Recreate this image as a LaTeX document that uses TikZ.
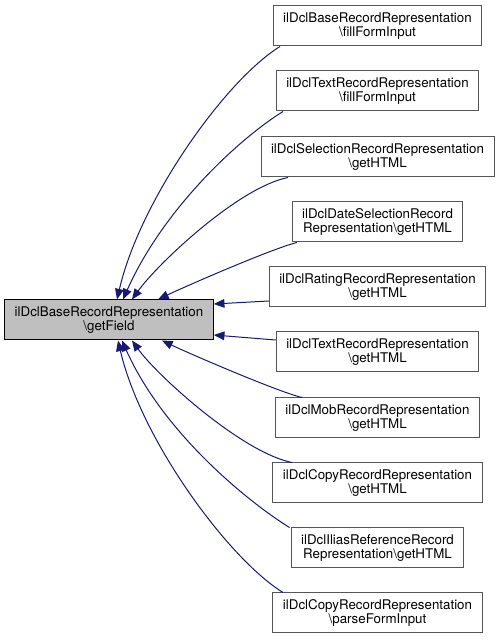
\documentclass[tikz,border=0pt]{standalone}
\usepackage{fontspec}
\setmainfont{TeX Gyre Heros}
\usepackage{xcolor}
\usepackage{tikz}
\usetikzlibrary{arrows.meta,calc}
\definecolor{callline}{HTML}{191970}
\definecolor{frame}{HTML}{555555}
\definecolor{rootfill}{HTML}{BFBFBF}
\tikzset{
  fn/.style={draw=frame,fill=white,line width=.75pt,align=center,inner xsep=7.5pt,inner ysep=2pt,minimum height=30pt,font=\fontsize{10}{10.5}\selectfont},
  root/.style={fn,draw=black,fill=rootfill},
  call/.style={{Triangle[length=8pt,width=6.5pt]}-,draw=callline,fill=none,line width=.75pt}
}
\newcommand{\bs}{\textbackslash}

\begin{document}
\begin{tikzpicture}[x=.75pt,y=.75pt]
  \useasboundingbox (0,0) rectangle (499,640);
  \node[root] (getfield) at (109,320) {ilDclBaseRecordRepresentation\\\bs getField};
  \node[fn] (basefill) at (377.5,614) {ilDclBaseRecordRepresentation\\\bs fillFormInput};
  \node[fn] (textfill) at (377.5,549) {ilDclTextRecordRepresentation\\\bs fillFormInput};
  \node[fn] (selhtml) at (377.5,483) {ilDclSelectionRecordRepresentation\\\bs getHTML};
  \node[fn] (datehtml) at (377.5,418) {ilDclDateSelectionRecord\\Representation\bs getHTML};
  \node[fn] (ratinghtml) at (377.5,353) {ilDclRatingRecordRepresentation\\\bs getHTML};
  \node[fn] (texthtml) at (377.5,288) {ilDclTextRecordRepresentation\\\bs getHTML};
  \node[fn] (mobhtml) at (377.5,222) {ilDclMobRecordRepresentation\\\bs getHTML};
  \node[fn] (copyhtml) at (377.5,157) {ilDclCopyRecordRepresentation\\\bs getHTML};
  \node[fn] (iliashtml) at (377.5,92) {ilDclIliasReferenceRecord\\Representation\bs getHTML};
  \node[fn] (copyparse) at (377.5,27) {ilDclCopyRecordRepresentation\\\bs parseFormInput};

  \draw[call] ($(getfield.north)+(8,0)$) .. controls +(23,99) and +(-55,-34) .. ($(basefill.south)+(-97.5,0)$);
  \draw[call] ($(getfield.north)+(14,0)$) .. controls +(40,90) and +(-45,-28) .. ($(textfill.south)+(-94.5,0)$);
  \draw[call] ($(getfield.north)+(23,0)$) .. controls +(25,35) and +(-50,-10) .. ($(selhtml.south)+(-89.5,0)$);
  \draw[call] ($(getfield.north)+(49,0)$) .. controls +(25,12) and +(-25,-6) .. ($(datehtml.south)+(-80.5,0)$);
  \draw[call] ($(getfield.east)+(0,16)$) -- ($(ratinghtml.west)+(0,-14)$);
  \draw[call] ($(getfield.east)+(0,-15)$) -- ($(texthtml.west)+(0,12)$);
  \draw[call] ($(getfield.south)+(53,0)$) .. controls +(25,-12) and +(-25,6) .. ($(mobhtml.north)+(-75.5,0)$);
  \draw[call] ($(getfield.south)+(23,0)$) .. controls +(25,-35) and +(-50,10) .. ($(copyhtml.north)+(-85.5,0)$);
  \draw[call] ($(getfield.south)+(13,0)$) .. controls +(40,-90) and +(-45,28) .. ($(iliashtml.north)+(-88,0)$);
  \draw[call] ($(getfield.south)+(9,0)$) .. controls +(23,-99) and +(-55,34) .. ($(copyparse.north)+(-94.5,0)$);
\end{tikzpicture}
\end{document}
